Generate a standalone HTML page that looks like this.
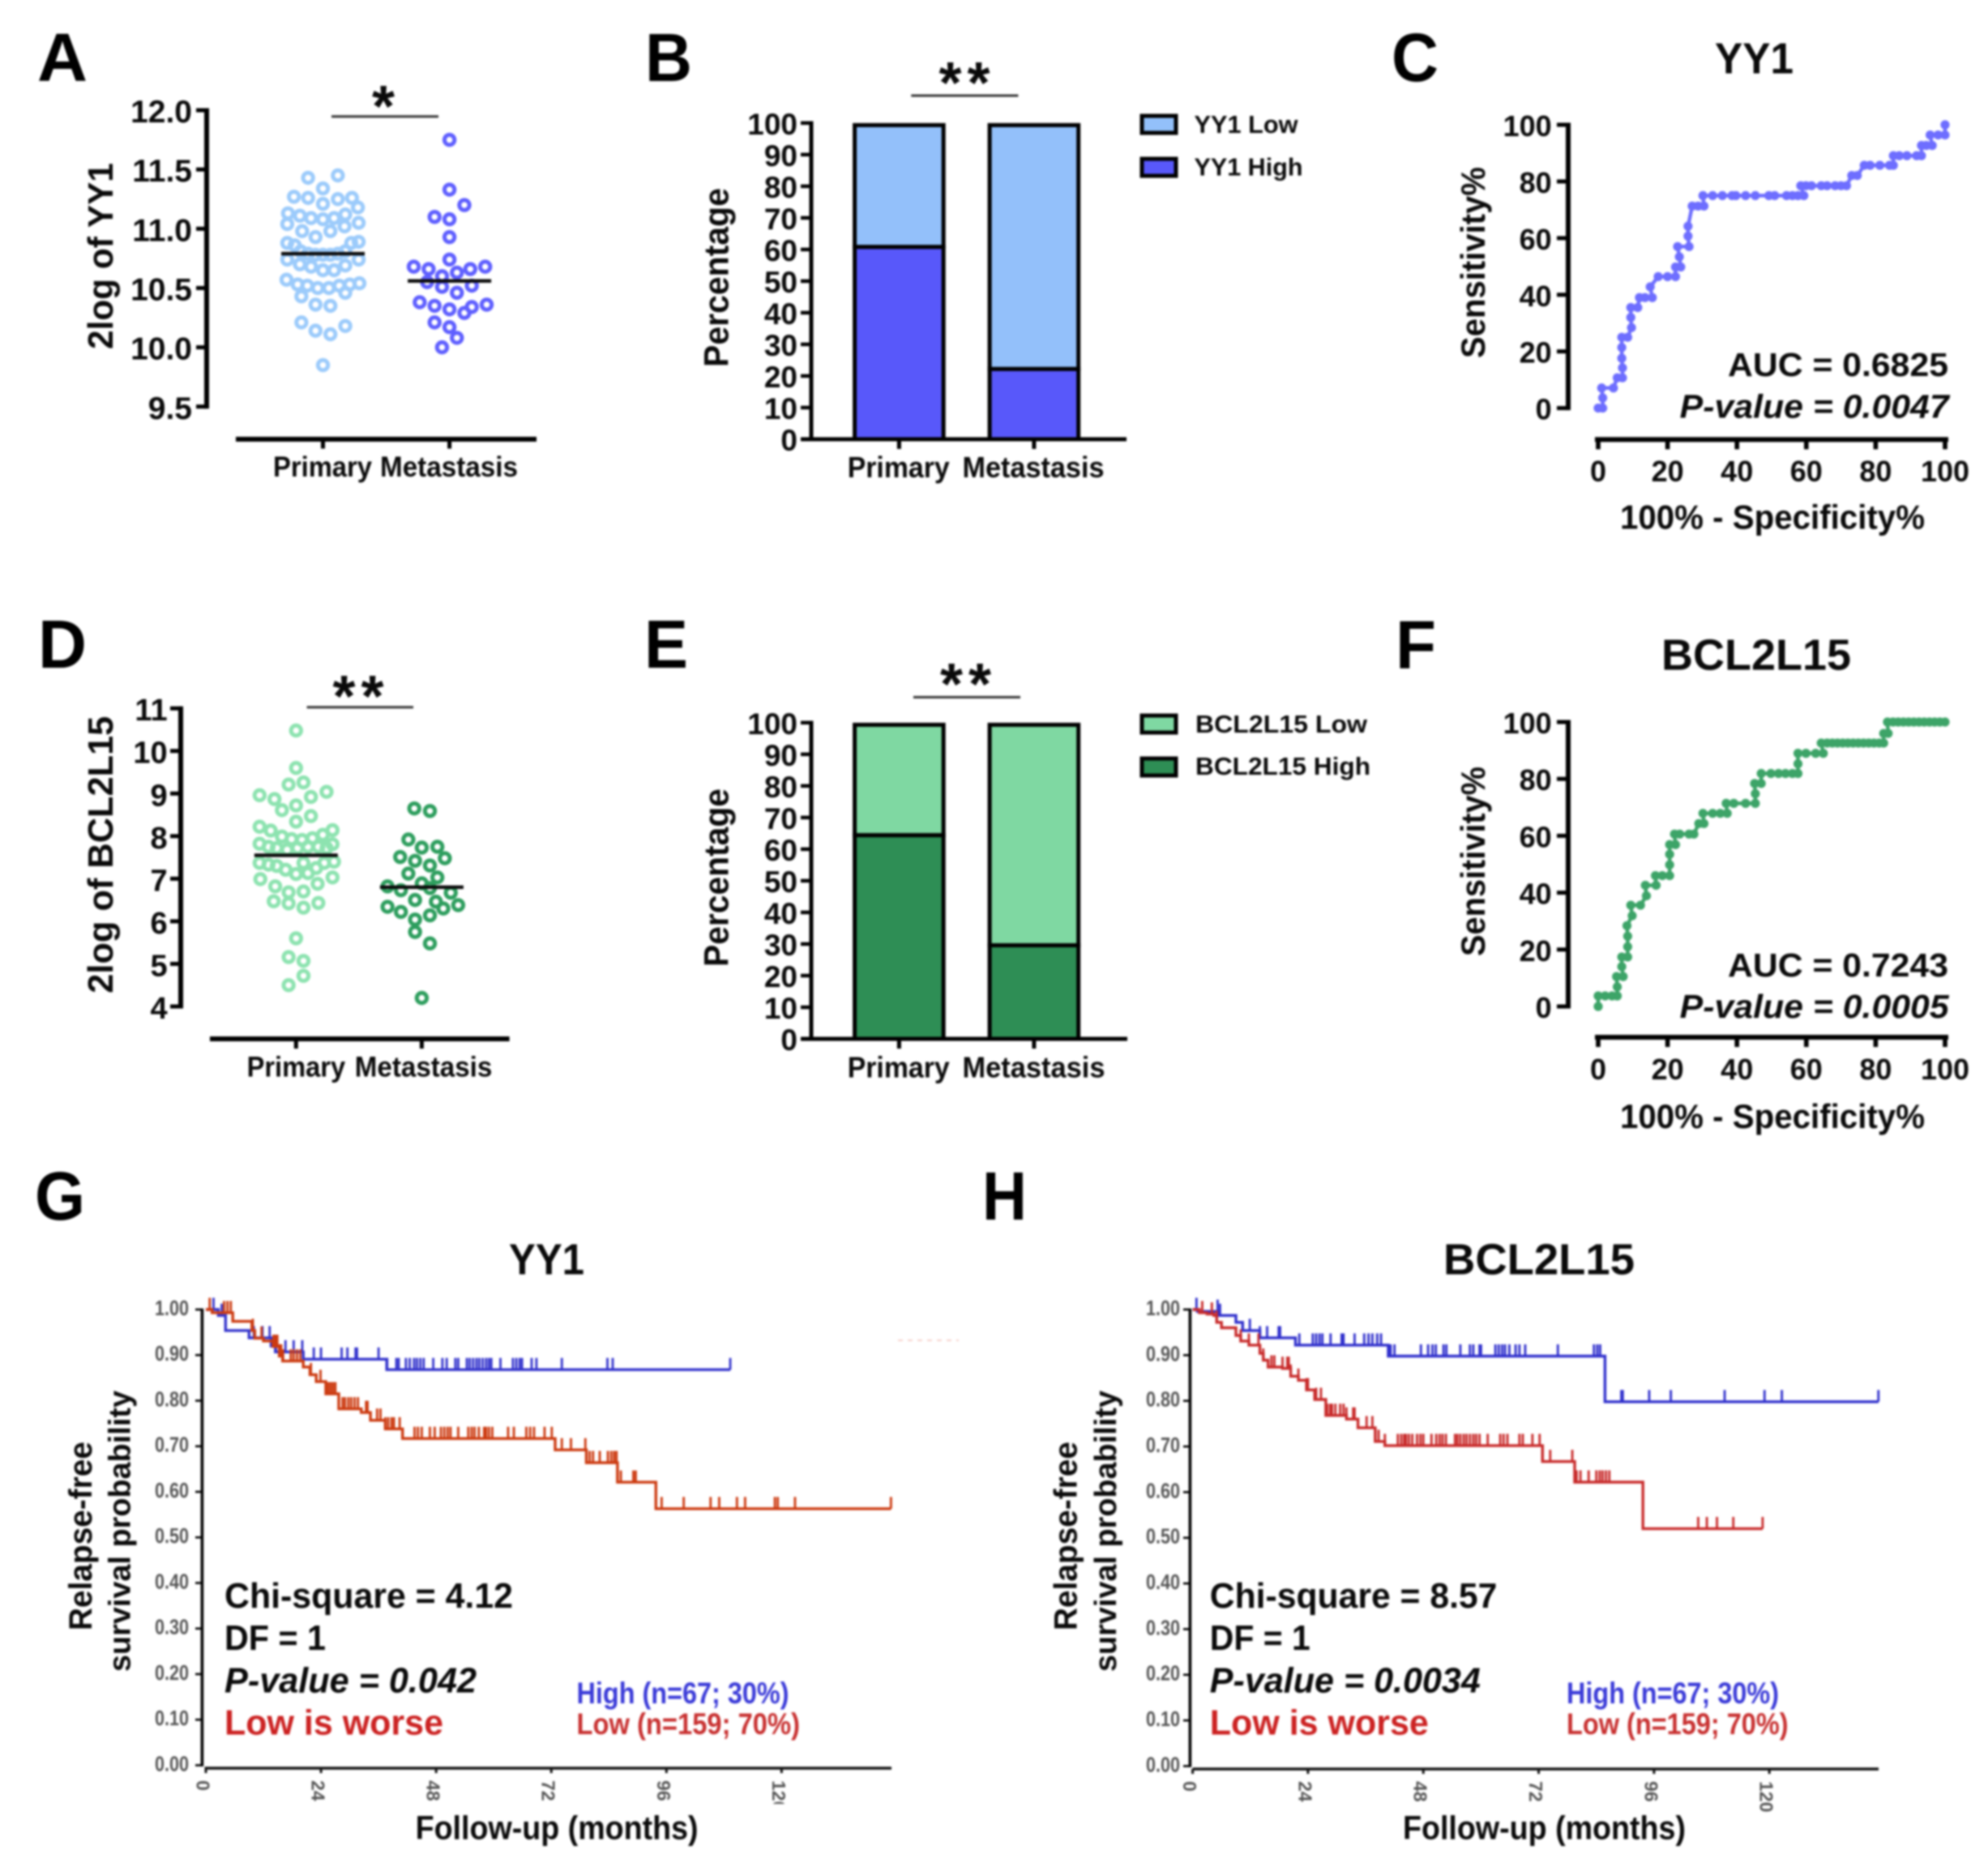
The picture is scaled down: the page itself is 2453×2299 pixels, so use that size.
<!DOCTYPE html>
<html lang="en">
<head>
<meta charset="utf-8">
<title>YY1 and BCL2L15 expression figure</title>
<style>
html,body{margin:0;padding:0;background:#fff;}
body{width:2453px;height:2299px;overflow:hidden;}
svg{display:block;filter:blur(1.2px);}
text{font-family:"Liberation Sans",sans-serif;font-weight:bold;fill:#0a0a0a;}
.letter{font-size:84px;fill:#000;}
</style>
</head>
<body>
<svg id="fig" xmlns="http://www.w3.org/2000/svg" width="2453" height="2299" viewBox="0 0 2453 2299">
<rect x="0" y="0" width="2453" height="2299" fill="#fff"/>

<!-- Panel A -->
<g id="panelA">
  <text class="letter" x="46" y="100" textLength="62" lengthAdjust="spacingAndGlyphs">A</text>
  <text transform="translate(139,431) rotate(-90)" font-size="44" textLength="230" lengthAdjust="spacingAndGlyphs">2log of YY1</text>
  <line x1="409" x2="541" y1="143.7" y2="143.7" stroke="#333" stroke-width="3"/>
  <text x="473" y="156" font-size="72" text-anchor="middle">*</text>
  <line x1="291" x2="662" y1="542" y2="542" stroke="#000" stroke-width="6"/>
  <line x1="398.5" x2="398.5" y1="542" y2="553.6" stroke="#000" stroke-width="5"/>
  <line x1="554.6" x2="554.6" y1="542" y2="553.6" stroke="#000" stroke-width="5"/>
  <text x="337" y="588" font-size="35" textLength="122" lengthAdjust="spacingAndGlyphs">Primary</text>
  <text x="469" y="588" font-size="35" textLength="170" lengthAdjust="spacingAndGlyphs">Metastasis</text>
</g>

<!-- Panel B -->
<g id="panelB">
  <text class="letter" x="796" y="100" textLength="58" lengthAdjust="spacingAndGlyphs">B</text>
  <text transform="translate(898.7,453) rotate(-90)" font-size="43" textLength="221" lengthAdjust="spacingAndGlyphs">Percentage</text>
  <line x1="1124.3" x2="1256.4" y1="118" y2="118" stroke="#333" stroke-width="3"/>
  <text x="1190" y="127" font-size="72" text-anchor="middle" textLength="63" lengthAdjust="spacing">**</text>
  <line x1="988" x2="1390" y1="542" y2="542" stroke="#000" stroke-width="5"/>
  <text x="1045.7" y="589" font-size="36" textLength="126" lengthAdjust="spacingAndGlyphs">Primary</text>
  <text x="1187.5" y="589" font-size="36" textLength="175" lengthAdjust="spacingAndGlyphs">Metastasis</text>
  <rect x="1409" y="143" width="42" height="21" fill="#93C0FA" stroke="#000" stroke-width="5"/>
  <rect x="1409" y="196" width="42" height="21" fill="#5858FA" stroke="#000" stroke-width="5"/>
  <text x="1473.5" y="163.8" font-size="31" textLength="128" lengthAdjust="spacingAndGlyphs">YY1 Low</text>
  <text x="1473.5" y="216.5" font-size="31" textLength="134" lengthAdjust="spacingAndGlyphs">YY1 High</text>
</g>

<!-- Panel C -->
<g id="panelC">
  <text class="letter" x="1717" y="100" textLength="58" lengthAdjust="spacingAndGlyphs">C</text>
  <text x="2116" y="90.6" font-size="54" textLength="97" lengthAdjust="spacingAndGlyphs">YY1</text>
  <text transform="translate(1832,442) rotate(-90)" font-size="42" textLength="236" lengthAdjust="spacingAndGlyphs">Sensitivity%</text>
  <text x="1999" y="652.7" font-size="42" textLength="376" lengthAdjust="spacingAndGlyphs">100% - Specificity%</text>
  <text x="2132" y="464" font-size="41" textLength="272" lengthAdjust="spacingAndGlyphs">AUC = 0.6825</text>
  <text x="2072.7" y="515.6" font-size="41" font-style="italic" textLength="332" lengthAdjust="spacingAndGlyphs">P-value = 0.0047</text>
</g>

<!-- Panel D -->
<g id="panelD">
  <text class="letter" x="47" y="824" textLength="60" lengthAdjust="spacingAndGlyphs">D</text>
  <text transform="translate(139,1225.7) rotate(-90)" font-size="44" textLength="342" lengthAdjust="spacingAndGlyphs">2log of BCL2L15</text>
  <line x1="378.6" x2="510" y1="872.7" y2="872.7" stroke="#333" stroke-width="3"/>
  <text x="442" y="884" font-size="72" text-anchor="middle" textLength="63" lengthAdjust="spacing">**</text>
  <line x1="259" x2="628.6" y1="1282" y2="1282" stroke="#000" stroke-width="6"/>
  <line x1="365.3" x2="365.3" y1="1282" y2="1294" stroke="#000" stroke-width="5"/>
  <line x1="520.4" x2="520.4" y1="1282" y2="1294" stroke="#000" stroke-width="5"/>
  <text x="304.6" y="1328.5" font-size="35" textLength="121.5" lengthAdjust="spacingAndGlyphs">Primary</text>
  <text x="437.8" y="1328.5" font-size="35" textLength="169.5" lengthAdjust="spacingAndGlyphs">Metastasis</text>
</g>

<!-- Panel E -->
<g id="panelE">
  <text class="letter" x="795" y="824" textLength="54" lengthAdjust="spacingAndGlyphs">E</text>
  <text transform="translate(898.7,1193) rotate(-90)" font-size="43" textLength="220" lengthAdjust="spacingAndGlyphs">Percentage</text>
  <line x1="1127" x2="1259" y1="860.4" y2="860.4" stroke="#333" stroke-width="3"/>
  <text x="1191.5" y="869" font-size="72" text-anchor="middle" textLength="63" lengthAdjust="spacing">**</text>
  <line x1="988" x2="1391" y1="1282" y2="1282" stroke="#000" stroke-width="5"/>
  <text x="1045.7" y="1329.5" font-size="36" textLength="126" lengthAdjust="spacingAndGlyphs">Primary</text>
  <text x="1187.5" y="1329.5" font-size="36" textLength="176" lengthAdjust="spacingAndGlyphs">Metastasis</text>
  <rect x="1409" y="883" width="42" height="21" fill="#7FD8A2" stroke="#000" stroke-width="5"/>
  <rect x="1409" y="936" width="42" height="21" fill="#2E8E55" stroke="#000" stroke-width="5"/>
  <text x="1475" y="904" font-size="31" textLength="212" lengthAdjust="spacingAndGlyphs">BCL2L15 Low</text>
  <text x="1475" y="955.8" font-size="31" textLength="216" lengthAdjust="spacingAndGlyphs">BCL2L15 High</text>
</g>

<!-- Panel F -->
<g id="panelF">
  <text class="letter" x="1722" y="825" textLength="50" lengthAdjust="spacingAndGlyphs">F</text>
  <text x="2050" y="826.7" font-size="54" textLength="234" lengthAdjust="spacingAndGlyphs">BCL2L15</text>
  <text transform="translate(1832,1180) rotate(-90)" font-size="42" textLength="234" lengthAdjust="spacingAndGlyphs">Sensitivity%</text>
  <text x="1999" y="1391.8" font-size="42" textLength="376" lengthAdjust="spacingAndGlyphs">100% - Specificity%</text>
  <text x="2132" y="1204.9" font-size="41" textLength="272" lengthAdjust="spacingAndGlyphs">AUC = 0.7243</text>
  <text x="2072.7" y="1256" font-size="41" font-style="italic" textLength="332" lengthAdjust="spacingAndGlyphs">P-value = 0.0005</text>
</g>

<!-- Panel G -->
<g id="panelG">
  <text class="letter" x="43" y="1505" textLength="62" lengthAdjust="spacingAndGlyphs">G</text>
  <text x="628" y="1572.5" font-size="54" textLength="93" lengthAdjust="spacingAndGlyphs">YY1</text>
  <text transform="translate(113,2012) rotate(-90)" font-size="40" textLength="233" lengthAdjust="spacingAndGlyphs">Relapse-free</text>
  <text transform="translate(160.7,2063) rotate(-90)" font-size="38" textLength="347" lengthAdjust="spacingAndGlyphs">survival probability</text>
  <text x="512.6" y="2269.6" font-size="41" textLength="349" lengthAdjust="spacingAndGlyphs">Follow-up (months)</text>
  <text x="277" y="1984" font-size="44" textLength="356" lengthAdjust="spacingAndGlyphs">Chi-square = 4.12</text>
  <text x="277" y="2036" font-size="44" textLength="125" lengthAdjust="spacingAndGlyphs">DF = 1</text>
  <text x="277" y="2088.7" font-size="44" font-style="italic" textLength="311" lengthAdjust="spacingAndGlyphs">P-value = 0.042</text>
  <text x="277" y="2140.7" font-size="44" textLength="270" lengthAdjust="spacingAndGlyphs" style="fill:#CC2222">Low is worse</text>
  <text x="711.5" y="2102" font-size="37" textLength="262" lengthAdjust="spacingAndGlyphs" style="fill:#3A3AD8">High (n=67; 30%)</text>
  <text x="711.5" y="2140" font-size="37" textLength="275.5" lengthAdjust="spacingAndGlyphs" style="fill:#C83030">Low (n=159; 70%)</text>
  <line x1="1108" x2="1183" y1="1654" y2="1654" stroke="#f5c4bc" stroke-width="1.6" stroke-dasharray="6 6"/>
</g>

<!-- Panel H -->
<g id="panelH">
  <text class="letter" x="1212" y="1505" textLength="55" lengthAdjust="spacingAndGlyphs">H</text>
  <text x="1781" y="1572.5" font-size="54" textLength="236" lengthAdjust="spacingAndGlyphs">BCL2L15</text>
  <text transform="translate(1328.5,2012) rotate(-90)" font-size="40" textLength="233" lengthAdjust="spacingAndGlyphs">Relapse-free</text>
  <text transform="translate(1377,2063) rotate(-90)" font-size="38" textLength="347" lengthAdjust="spacingAndGlyphs">survival probability</text>
  <text x="1731" y="2269.6" font-size="41" textLength="349" lengthAdjust="spacingAndGlyphs">Follow-up (months)</text>
  <text x="1492.8" y="1984" font-size="44" textLength="354.6" lengthAdjust="spacingAndGlyphs">Chi-square = 8.57</text>
  <text x="1492.8" y="2036" font-size="44" textLength="124" lengthAdjust="spacingAndGlyphs">DF = 1</text>
  <text x="1492.8" y="2088.7" font-size="44" font-style="italic" textLength="334" lengthAdjust="spacingAndGlyphs">P-value = 0.0034</text>
  <text x="1492.8" y="2140.7" font-size="44" textLength="270" lengthAdjust="spacingAndGlyphs" style="fill:#CC2222">Low is worse</text>
  <text x="1933" y="2102" font-size="37" textLength="262" lengthAdjust="spacingAndGlyphs" style="fill:#3A3AD8">High (n=67; 30%)</text>
  <text x="1933" y="2140" font-size="37" textLength="273.6" lengthAdjust="spacingAndGlyphs" style="fill:#C83030">Low (n=159; 70%)</text>
</g>
</svg>

<script>
// ---------- Panel A data ----------
const aTickValues = [12.0, 11.5, 11.0, 10.5, 10.0, 9.5];
const aTickLabels = ["12.0", "11.5", "11.0", "10.5", "10.0", "9.5"];
const aPrimaryValues = [11.45,11.43,11.34,11.27,11.26,11.25,11.26,11.21,11.18,11.13,11.11,11.09,11.08,11.09,11.12,11.04,11.05,11.02,10.98,10.93,10.98,10.88,10.86,10.88,10.89,10.81,10.79,10.78,10.78,10.78,10.79,10.81,10.74,10.70,10.68,10.65,10.65,10.69,10.74,10.57,10.53,10.52,10.50,10.50,10.52,10.53,10.54,10.43,10.46,10.36,10.35,10.21,10.18,10.14,10.11,9.85];
const aPrimarySwarm = [2,-2,0,-3.9,-2,2,3.9,0,4.7,-4.7,-3.1,-1.6,0,1.5,3,-4.8,4.8,2.9,-2.8,-1,1,-4.8,-3.8,3.8,4.8,-3,-2,-1,0,1,2,3,-4.8,-3.1,-1.6,0,1.5,3,4.8,-4.9,-3.4,-2.1,-0.7,0.8,2.2,3.6,4.9,-2.9,3,-1,1,-2.9,3,-1,1,0];
const aMetastasisValues = [11.75,11.33,11.20,11.10,11.08,10.93,10.74,10.68,10.66,10.60,10.63,10.66,10.68,10.55,10.51,10.46,10.52,10.38,10.35,10.32,10.29,10.34,10.36,10.21,10.17,10.08,10.00];
const aMetastasisSwarm = [0,0,2,-2,0,0,0,-4.8,-2.8,-1,1,2.8,4.8,-3,-1,1,3,-4,-2,0,2,3,5,-2,0,1,-1];
const aMeans = [10.79, 10.56];

// ---------- Panel B data ----------
const percentTicks = [0,10,20,30,40,50,60,70,80,90,100];
const percentLabels = ["0","10","20","30","40","50","60","70","80","90","100"];
const stackCategories = ["primary","metastasis"];
const bHighValues = [60.8, 22.2];
const bLowValues = [39.2, 77.8];

// ---------- Panel C data ----------
const rocTicks = [0,20,40,60,80,100];
const rocLabels = ["0","20","40","60","80","100"];
const cFpr = [0,1.3,1.3,1,4.4,5.5,7,7,6.8,6.8,6.8,8.5,9.6,9.4,9.4,11.4,11.9,13.5,15.6,15,17.3,20,22.3,22.3,23.8,23.4,22.9,26.2,25.9,25.9,27.1,28.8,30.5,30.2,33,35.8,38.6,39.7,42.5,45.3,49.2,50.9,54.3,56,57.6,59.3,58.4,59.9,61.5,64.3,66,68.3,70,71.6,73.1,74.7,76.7,78.4,81.2,84,85.1,85.1,86.8,89,91.8,93.2,93.2,94.6,96.3,95.7,98,100,100];
const cTpr = [0,0,3.6,7.1,7.1,10.7,10.7,14.2,17.6,21.4,25,25,28.4,32,35.5,35.5,39,39,39,42.8,46.4,46.4,46.4,49.8,49.8,53.4,57,57,60.7,64.2,71.3,71.3,71.3,75,75,75,75,75,75,75,75,75,75,75,75,75,78.5,78.5,78.5,78.5,78.5,78.5,78.5,78.5,82.1,82.1,85.7,85.7,85.7,85.7,85.7,89.1,89.1,89.1,89.1,89.1,92.7,92.7,92.7,96.4,96.4,96.4,100];

// ---------- Panel D data ----------
const dTickValues = [11,10,9,8,7,6,5,4];
const dTickLabels = ["11","10","9","8","7","6","5","4"];
const dPrimaryValues = [10.48,9.60,9.21,9.26,9.04,8.92,8.96,8.87,8.72,8.61,8.47,8.34,8.22,8.13,8.14,7.99,8.03,7.93,7.91,7.95,7.82,7.81,7.75,7.72,7.68,7.72,7.75,7.75,7.72,7.37,7.33,7.30,7.21,7.11,7.13,7.25,7.37,7.40,7.37,6.99,7.03,6.82,6.88,6.68,6.70,6.47,6.42,6.32,6.43,5.60,5.16,5.07,4.72,4.50];
const dPrimarySwarm = [0,0,-1,1,4.1,2,-4.9,-2.9,0,-1.9,2,0,-4.9,-3.4,4.9,-1.9,3.6,-0.6,0.8,2.2,-4.9,4.9,-3.7,-2.6,-1.2,0.2,1.6,3,4.1,-4.9,-3.7,-2.6,-1.4,0,1.6,2.7,3.8,5.1,1,-4.8,4.9,-2.8,2.9,-1,1,-3,-1,1,3,0,-1,1,1,-1];
const dMetastasisValues = [8.65,8.59,7.92,7.73,7.75,7.51,7.42,7.48,7.31,7.12,7.03,6.89,6.82,6.73,6.78,6.67,6.50,6.46,6.30,6.38,6.34,6.22,6.14,6.04,5.75,5.48,4.20];
const dMetastasisSwarm = [-1,1.1,-1.8,0,2.1,-2.9,-0.9,3.1,1.1,-1.8,2.1,0,-4.6,-2.8,1.1,3.9,-0.9,1.9,2.9,4.9,-4.6,-2.8,1.1,-0.9,-0.9,1.1,0];
const dMeans = [7.55, 6.80];

// ---------- Panel E data ----------
const eHighValues = [64.4, 29.6];
const eLowValues = [35.6, 70.4];

// ---------- Panel F data ----------
const fFpr = [0,0,2,4,5.5,5.5,5.3,7.2,6.8,6.8,8.5,8.5,8.5,8.3,9.8,9.4,12.2,13.9,13.6,16.7,16.5,18.5,20.6,20.6,20.6,20.6,22.3,22,23.5,26.2,27.6,29,30.5,30.2,33,35.2,37.2,36.9,39.1,42.5,45.3,45.3,45.1,47,47,49.8,52,54,56,57.6,57.6,57.6,59.9,62.7,64.9,64.3,66,67.5,69,70.5,72,73.5,75,76.5,78,79.5,81,82.3,82.3,83.6,83.4,85,86.5,88,89.5,91,92.5,94,95.5,97,98.5,100];
const fTpr = [0,3.7,3.7,3.7,3.7,6.9,10.5,10.5,14,17.4,17.4,21,24.7,28.4,31.9,35.6,35.6,38.9,42.6,42.6,46,46,46,49.8,53.5,56.9,56.9,60.6,60.6,60.6,60.6,64.3,64.3,67.9,67.9,67.9,67.9,71.4,71.4,71.4,71.4,74.8,78.4,78.4,81.9,81.9,81.9,81.9,81.9,81.9,85.3,89,89,89,89,92.6,92.6,92.6,92.6,92.6,92.6,92.6,92.6,92.6,92.6,92.6,92.6,92.6,96,96,100,100,100,100,100,100,100,100,100,100,100,100];

// ---------- Panels G / H data ----------
const kmYTicks = [1,0.9,0.8,0.7,0.6,0.5,0.4,0.3,0.2,0.1,0];
const kmYLabels = ["1.00","0.90","0.80","0.70","0.60","0.50","0.40","0.30","0.20","0.10","0.00"];
const kmXTicks = [0,24,48,72,96,120];
const kmXLabels = ["0","24","48","72","96","120"];

const gHighTimes = [0,2.6,4.1,9,13.6,14.5,20.3,37.7];
const gHighSurv = [1,0.987,0.954,0.938,0.92,0.907,0.891,0.868];
const gHighEnd = 109.3;
const gHighCensor = [1.6,3.3,10,11.8,13.3,14.6,16.6,18.3,20.1,22.5,24,28.3,29.5,31.2,31.5,36,37.8,39.7,40.2,41.7,42.5,43.4,44,44.7,45.4,47.4,49.3,50.2,52,52.6,54.4,55,55.7,56.4,57,57.7,58.4,59,59.5,61.4,64,64.7,65.4,65.9,67.9,68.9,74.2,83.7,84.8,109.3];

const gLowTimes = [0,1.3,5.6,9.6,10.2,12,14,15.3,16,20.3,21.7,23,25,27.7,32.4,34.3,37.4,41,72.8,79.3,85.8,93.8];
const gLowSurv = [1,0.993,0.974,0.954,0.937,0.931,0.919,0.898,0.887,0.874,0.857,0.842,0.815,0.782,0.774,0.757,0.738,0.717,0.692,0.664,0.621,0.563];
const gLowEnd = 142.8;
const gLowCensor = [0.8,3.8,4.5,5.2,9.8,11.6,14.1,14.5,14.9,15.3,15.7,16.1,17.7,18.3,19,19.7,21.9,23.9,25,25.5,26,26.5,27,28.5,29,29.7,30.3,31,31.7,33.4,33.7,35.7,36.4,37.4,38,38.7,39.2,40.4,43.5,44.2,45,46.7,47.7,49,49.7,50.4,51,52.6,54.7,55.4,56,56.9,58,58.4,59,59.7,63,64.2,66.8,67.6,68.4,70.6,72.1,74.2,76.1,79.1,80,80.7,82.1,83.8,84.5,85.1,85.6,86.5,89.1,89.6,95,99.6,105.2,107,110.7,112.4,118.6,119.2,122.8,142.8];

const hHighTimes = [0,1,5.4,9,10.4,14,21.4,40.7,85.8];
const hHighSurv = [1,0.996,0.987,0.972,0.954,0.938,0.922,0.898,0.798];
const hHighEnd = 142.7;
const hHighCensor = [0.8,5.2,5.7,11.9,14,15.5,17.9,18.2,22.2,25,25.7,26.4,27,28.7,31,31.4,33.7,35.7,36.6,37.4,38.4,39.2,41.2,42,47.5,49,49.9,50.6,52.2,52.8,55.7,57.7,58.4,59.7,60,63,63.7,64.4,65,65.9,67.2,68,69.2,76,83.5,84.2,84.8,89.2,89.5,95,99.5,110.7,119,122.6,142.7];

const hLowTimes = [0,1.4,3,4.4,5,6,9,10,11.7,14,14.7,15.7,18.7,20.4,22,23.7,25.4,27.7,32,34.4,38,40,72.8,79.5,93.7];
const hLowSurv = [1,0.993,0.99,0.987,0.972,0.96,0.943,0.931,0.922,0.904,0.889,0.874,0.871,0.854,0.845,0.824,0.803,0.768,0.76,0.741,0.711,0.702,0.667,0.622,0.52];
const hLowEnd = 118.6;
const hLowCensor = [2,4,5,10,11.7,13.7,14.7,16.4,17,18.7,19.7,20,20.4,22,23.7,24,25.7,26.7,28,28.6,29,29.7,30.7,31.4,32,33.4,33.7,36.2,37.4,38,38.7,40,42.7,43.4,44,44.4,45,45.7,46.7,47.4,48,49.7,50.7,51.4,52,52.7,54.6,55.1,55.7,56.4,57,57.7,58.4,59,59.7,61.4,64,64.7,65.5,68,68.7,70.7,72.2,74.4,79,79.9,80.7,82.4,84,84.7,85.3,86,86.7,105.2,107,109.1,112.5,118.6];

// ---------- Drawing helpers ----------
const NS = "http://www.w3.org/2000/svg";
function mk(tag, attrs, parent) {
  const e = document.createElementNS(NS, tag);
  for (const k in attrs) e.setAttribute(k, attrs[k]);
  parent.appendChild(e);
  return e;
}

function yAxis(g, scale, ticks, labels, o) {
  const top = scale(ticks.reduce((a, b) => Math.max(a, b)));
  const bot = scale(ticks.reduce((a, b) => Math.min(a, b)));
  const axis = mk("line", {x1:o.x, x2:o.x, y1:top - o.tickW/2, y2:bot + o.tickW/2, stroke:"#000", "stroke-width":o.w}, g);
  
  
  ticks.forEach((t, i) => {
    const tk = mk("line", {x1:o.tickLeft, x2:o.x, y1:scale(t), y2:scale(t), stroke:"#000", "stroke-width":o.tickW}, g);
    
    
    const lb = mk("text", {x:o.labelRight, y:scale(t) + o.dy, "font-size":o.font, "text-anchor":"end"}, g);
    
    
    lb.textContent = labels[i];
    if (o.fill) lb.style.fill = o.fill;
    if (o.len) { lb.setAttribute("textLength", o.len); lb.setAttribute("lengthAdjust", "spacingAndGlyphs"); }
  });
}

function swarm(g, values, slots, cx, scale, color) {
  values.forEach((v, i) => {
    const c = mk("circle", {cx:cx + slots[i] * 9.18, cy:scale(v), r:6.2, fill:"none", stroke:color, "stroke-width":5}, g);
    
    
  });
}

function meanLine(g, v, cx, scale) {
  const l = mk("line", {x1:cx - 51.5, x2:cx + 51.5, y1:scale(v), y2:scale(v), stroke:"#0a0a0a", "stroke-width":4.4}, g);
  
  
}

function stackedBars(g, high, low, scale, colors) {
  const centers = [1109.4, 1275.9];
  const half = 54.8;
  stackCategories.forEach((cat, i) => {
    const base = scale(0);
    const split = scale(high[i]);
    const top = scale(high[i] + low[i]) + 2.6;
    const lowRect = mk("rect", {x:centers[i] - half, y:top, width:half * 2, height:split - top, fill:colors[0], stroke:"#000", "stroke-width":5}, g);
    
    
    const highRect = mk("rect", {x:centers[i] - half, y:split, width:half * 2, height:base - split, fill:colors[1], stroke:"#000", "stroke-width":5}, g);
    
    
    const tk = mk("line", {x1:centers[i], x2:centers[i], y1:base, y2:base + 12, stroke:"#000", "stroke-width":5}, g);
    
    
  });
}

function rocAxisX(g, scale, yPos, labelY) {
  const axis = mk("line", {x1:1968, x2:2404, y1:yPos, y2:yPos, stroke:"#000", "stroke-width":6}, g);
  
  
  rocTicks.forEach((t, i) => {
    const tk = mk("line", {x1:scale(t), x2:scale(t), y1:yPos, y2:yPos + 12, stroke:"#000", "stroke-width":5.6}, g);
    
    
    const lb = mk("text", {x:scale(t), y:labelY, "font-size":36, "text-anchor":"middle"}, g);
    
    
    lb.textContent = rocLabels[i];
  });
}

function rocCurve(g, fpr, tpr, xs, ys, color) {
  const pts = fpr.map((f, i) => xs(f).toFixed(1) + "," + ys(tpr[i]).toFixed(1)).join(" ");
  const line = mk("polyline", {points:pts, fill:"none", stroke:color, "stroke-width":4.5}, g);
  
  
  fpr.forEach((f, i) => {
    const c = mk("circle", {cx:xs(f), cy:ys(tpr[i]), r:5.6, fill:color}, g);
    
    
  });
}

function kmAxisX(g, scale, o) {
  const axis = mk("line", {x1:o.left, x2:o.right, y1:o.y, y2:o.y, stroke:"#111", "stroke-width":3.6}, g);
  
  
  kmXTicks.forEach((t, i) => {
    const tk = mk("line", {x1:scale(t), x2:scale(t), y1:o.y, y2:o.y + 6, stroke:"#111", "stroke-width":3}, g);
    
    
    const bx = scale(t) - 11.5;
    const lb = mk("text", {transform:"translate(" + bx + "," + (o.y + 15) + ") rotate(90)", "font-size":23}, g);
    
    
    lb.style.fill = "#555";
    lb.textContent = kmXLabels[i];
  });
}

function survivalAt(times, surv, t) {
  let s = surv[0];
  times.forEach((tt, i) => { if (tt <= t) s = surv[i]; });
  return s;
}

function kmCurve(g, times, surv, end, censor, xs, ys, color, name) {
  let d = "M" + xs(times[0]).toFixed(1) + " " + ys(surv[0]).toFixed(1);
  for (let i = 1; i < times.length; i++) {
    d += "H" + xs(times[i]).toFixed(1) + "V" + ys(surv[i]).toFixed(1);
  }
  d += "H" + xs(end).toFixed(1);
  const p = mk("path", {d:d, fill:"none", stroke:color, "stroke-width":3.4}, g);
  
  
  censor.forEach(t => {
    const y = ys(survivalAt(times, surv, t));
    const tk = mk("line", {x1:xs(t), x2:xs(t), y1:y, y2:y - 14.5, stroke:color, "stroke-width":2.8}, g);
    
    
  });
}

// ---------- Scales ----------
const yA = v => 428.6 + (10 - v) * 146.3;
const yD = v => 1242 - (v - 4) * 52.55;
const yB = v => 542 - v * 3.902;
const yE = v => 1282 - v * 3.902;
const xRoc = f => 1972 + f * 4.28;
const yC = t => 503.6 - t * 3.496;
const yF = t => 1242 - t * 3.51;
const xG = m => 254 + m * 5.92;
const yG = s => 2178.4 - s * 562.4;
const xH = m => 1471.6 + m * 5.93;
const yH = s => 2179.4 - s * 563.4;

// ---------- Render ----------
const gA = document.getElementById("panelA");
yAxis(gA, yA, aTickValues, aTickLabels, {x:255, w:6, tickW:5, tickLeft:242, labelRight:237, font:39, dy:15});
swarm(gA, aPrimaryValues, aPrimarySwarm, 398.5, yA, "#9CCBFB");
swarm(gA, aMetastasisValues, aMetastasisSwarm, 554.6, yA, "#5F5FFF");
meanLine(gA, aMeans[0], 398.5, yA);
meanLine(gA, aMeans[1], 554.6, yA);

const gB = document.getElementById("panelB");
stackedBars(gB, bHighValues, bLowValues, yB, ["#93C0FA", "#5858FA"]);
yAxis(gB, yB, percentTicks, percentLabels, {x:1001, w:5, tickW:4.5, tickLeft:988, labelRight:984, font:37, dy:14});

const gC = document.getElementById("panelC");
yAxis(gC, yC, rocTicks, rocLabels, {x:1935, w:6, tickW:5, tickLeft:1921, labelRight:1914.7, font:36, dy:14});
rocAxisX(gC, xRoc, 542.4, 593.8);
rocCurve(gC, cFpr, cTpr, xRoc, yC, "#6E6EFF");

const gD = document.getElementById("panelD");
yAxis(gD, yD, dTickValues, dTickLabels, {x:223, w:6, tickW:5, tickLeft:210, labelRight:206.6, font:38, dy:15});
swarm(gD, dPrimaryValues, dPrimarySwarm, 365.3, yD, "#8DE3B0");
swarm(gD, dMetastasisValues, dMetastasisSwarm, 520.4, yD, "#2E9E5E");
meanLine(gD, dMeans[0], 365.3, yD);
meanLine(gD, dMeans[1], 520.4, yD);

const gE = document.getElementById("panelE");
stackedBars(gE, eHighValues, eLowValues, yE, ["#7FD8A2", "#2E8E55"]);
yAxis(gE, yE, percentTicks, percentLabels, {x:1001, w:5, tickW:4.5, tickLeft:988, labelRight:984, font:37, dy:14});

const gF = document.getElementById("panelF");
yAxis(gF, yF, rocTicks, rocLabels, {x:1935, w:6, tickW:5, tickLeft:1921, labelRight:1914.7, font:36, dy:14});
rocAxisX(gF, xRoc, 1280, 1332);
rocCurve(gF, fFpr, fTpr, xRoc, yF, "#3DA468");

const gG = document.getElementById("panelG");
yAxis(gG, yG, kmYTicks, kmYLabels, {x:249.4, w:3.6, tickW:2.6, tickLeft:241, labelRight:233, font:26, dy:7, fill:"#555", len:42});
kmAxisX(gG, xG, {left:252.5, right:1100, y:2182});
kmCurve(gG, gHighTimes, gHighSurv, gHighEnd, gHighCensor, xG, yG, "#3333CC", "high");
kmCurve(gG, gLowTimes, gLowSurv, gLowEnd, gLowCensor, xG, yG, "#CC3A10", "low");
const clipG = mk("rect", {x:950, y:2226, width:30, height:14, fill:"#fff"}, gG);



const gH = document.getElementById("panelH");
yAxis(gH, yH, kmYTicks, kmYLabels, {x:1468.4, w:3.6, tickW:2.6, tickLeft:1460, labelRight:1456, font:26, dy:7, fill:"#555", len:42});
kmAxisX(gH, xH, {left:1471.6, right:2318, y:2183});
kmCurve(gH, hHighTimes, hHighSurv, hHighEnd, hHighCensor, xH, yH, "#2F2FCC", "high");
kmCurve(gH, hLowTimes, hLowSurv, hLowEnd, hLowCensor, xH, yH, "#C82A2A", "low");
</script>
</body>
</html>
